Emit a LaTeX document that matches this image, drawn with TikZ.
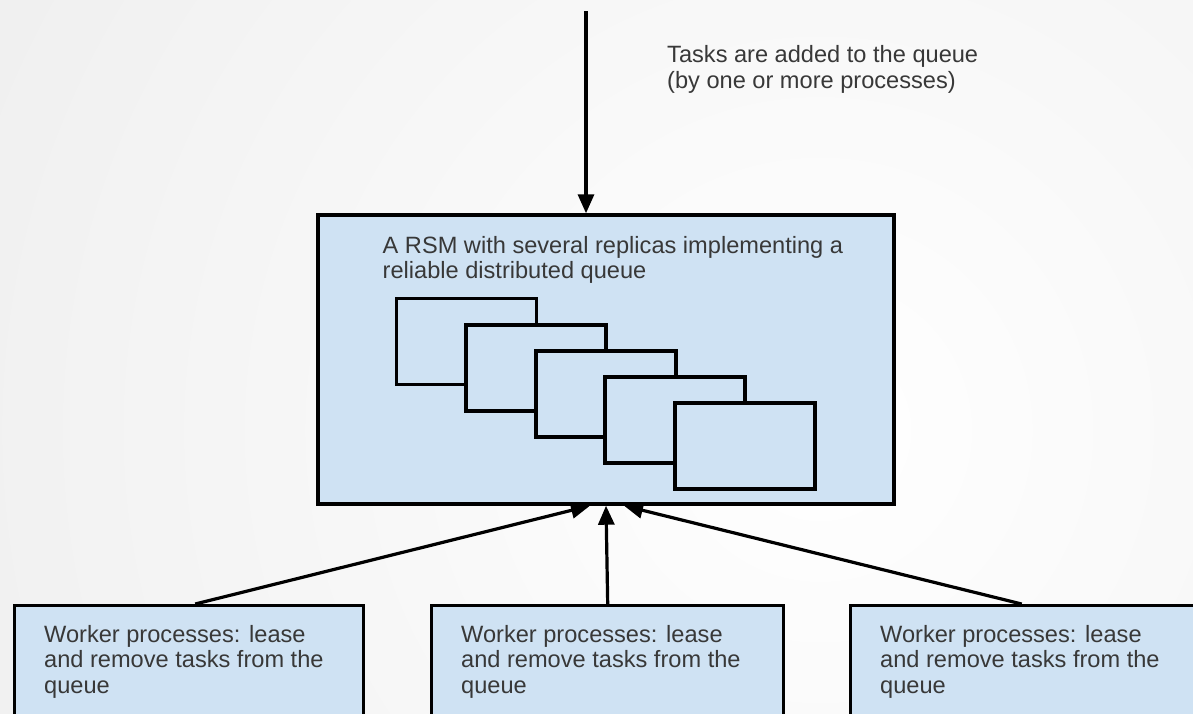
\documentclass[tikz,border=0pt]{standalone}
\usepackage{fontspec}
\setmainfont{Liberation Sans}
\usetikzlibrary{arrows.meta}
\definecolor{boxblue}{HTML}{CFE2F3}
\definecolor{txtgray}{HTML}{383838}
\definecolor{vignette}{HTML}{DEDEDE}

\begin{document}
\begin{tikzpicture}[x=1pt,y=-1pt,
  box/.style={draw=black, line width=3.4pt, fill=boxblue, inner sep=0pt, rectangle},
  replica/.style={box, line width=3.8pt, minimum width=140pt, minimum height=86pt},
  worker/.style={box, minimum height=140pt, anchor=north west},
  label/.style={text=txtgray, font=\fontsize{23.6}{25.5}\selectfont, align=left, inner sep=0pt, anchor=north west},
  link/.style={line width=3.2pt, -{Triangle[length=19pt,width=16pt]}}]

% page area with a soft grey vignette
\useasboundingbox (0,0) rectangle (1193,713);
\clip (0,0) rectangle (1193,713);
\fill[white] (0,0) rectangle (1193,713);
\shade[inner color=white, outer color=vignette] (820,430) circle (2000pt);

% the replicated state machine holding the queue
\node[box, minimum width=576pt, minimum height=289pt] (rsm) at (606,359.5) {};
\node[label] (rsmtext) at (382.5,236) {A RSM with several replicas implementing a\\reliable distributed queue};

% stacked replicas, each one drawn over the previous
\foreach \i in {0,...,4} {
  \node[replica] (rep\i) at (466.5+69.6*\i, 341.5+26.1*\i) {};
}

% producers feeding the queue
\coordinate (src) at (586,11);
\node[label] (srctext) at (667,45.5) {Tasks are added to the queue\\(by one or more processes)};
\draw[link] (src) -- (src |- rsm.north);

% worker processes
\node[worker, minimum width=349pt] (wl) at (13,604) {};
\node[worker, minimum width=352pt] (wm) at (430,604) {};
\node[worker, minimum width=350pt] (wr) at (849,604) {};
\node[label] (wltext) at (44,625) {Worker processes: lease\\and remove tasks from the\\queue};
\node[label] (wmtext) at (461,625) {Worker processes: lease\\and remove tasks from the\\queue};
\node[label] (wrtext) at (880,625) {Worker processes: lease\\and remove tasks from the\\queue};

% workers lease tasks from the queue
\draw[link] ([xshift=6pt]wl.north) -- ([xshift=-16pt]rsm.south);
\draw[link] (wm.north) -- (rsm.south);
\draw[link] ([xshift=-4pt]wr.north) -- ([xshift=18pt]rsm.south);
\end{tikzpicture}
\end{document}
